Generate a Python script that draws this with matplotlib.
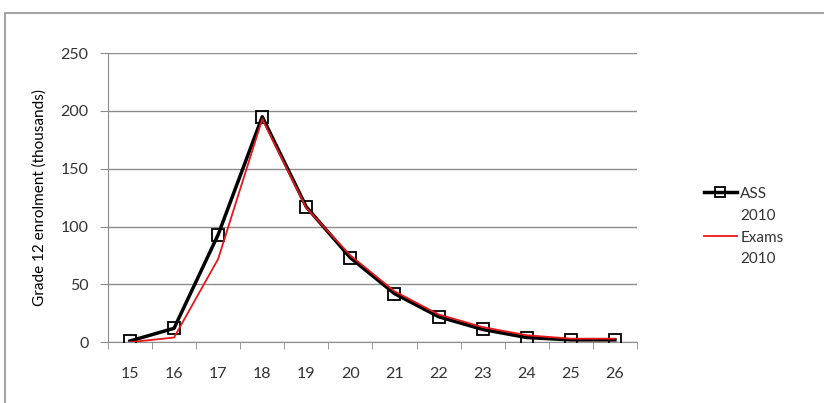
import numpy as np
import matplotlib.pyplot as plt
from matplotlib.lines import Line2D
from matplotlib.patches import Rectangle

plt.rcParams['font.family'] = ['Lato', 'DejaVu Sans']
plt.rcParams['text.color'] = '#333333'

ages = ["15", "16", "17", "18", "19", "20", "21", "22", "23", "24", "25", "26"]
ass_2010 = [1, 12, 93, 195, 117, 73, 42, 22, 11, 4, 2, 2]
exams_2010 = [0, 4, 72, 193, 116, 75, 44, 24, 13, 6, 3, 3]

fig = plt.figure(figsize=(8.24, 4.03), dpi=100)
ax = fig.add_axes([0.131, 0.151, 0.642, 0.717])

# chart area frame
fig.patches.append(Rectangle((5 / 824, -0.1), 1.2, 0.1 + 1 - 13 / 403,
                             transform=fig.transFigure, fill=False,
                             edgecolor="#a6a6a6", linewidth=1.5))

x = np.arange(len(ages))
ass_line, = ax.plot(x, ass_2010, color="black", linewidth=2.5, marker="s", markersize=9,
                    markerfacecolor="none", markeredgecolor="black", markeredgewidth=1.3,
                    zorder=3)
exams_line, = ax.plot(x, exams_2010, color="#e8161b", linewidth=1.3, zorder=4)

ax.set_xlim(-0.5, len(ages) - 0.5)
ax.set_ylim(0, 250)
ax.set_yticks(range(0, 251, 50))
ax.yaxis.grid(True, color="#8c8c8c", linewidth=1)
ax.set_axisbelow(True)

ax.set_xticks(x)
ax.set_xticklabels(ages)
ax.set_xticks(np.arange(-0.5, len(ages), 1), minor=True)
ax.tick_params(axis="x", which="major", length=0, pad=18, labelsize=11.5, labelcolor="#333333")
ax.tick_params(axis="x", which="minor", length=5, color="#8c8c8c")
ax.tick_params(axis="y", length=6, color="#8c8c8c", labelsize=11.5, pad=8, labelcolor="#333333")

for s in ["top", "right"]:
    ax.spines[s].set_visible(False)
for s in ["left", "bottom"]:
    ax.spines[s].set_color("#8c8c8c")

ax.set_ylabel("Grade 12 enrolment (thousands)", fontsize=11, labelpad=10)

# legend labels wrap onto a second line
blank = Line2D([], [], linestyle="none")
ax.legend([ass_line, blank, exams_line, blank], ["ASS", "2010", "Exams", "2010"],
          loc="center left", bbox_to_anchor=(1.1, 0.4), frameon=False,
          fontsize=11, handlelength=2.2, handletextpad=0.2, labelspacing=0.52,
          markerscale=0.85)

fig.savefig("out.png", dpi=100)
